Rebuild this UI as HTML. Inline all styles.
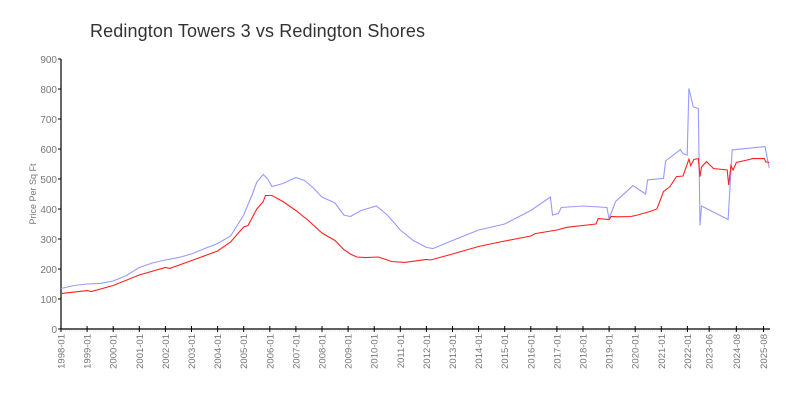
<!DOCTYPE html>
<html><head><meta charset="utf-8"><style>
body{margin:0;background:#fff;}
svg text{font-family:"Liberation Sans",sans-serif;}
</style></head><body>
<svg id="chart" width="800" height="400" xmlns="http://www.w3.org/2000/svg">
<rect width="800" height="400" fill="#fff"/>
<text x="90" y="37" font-size="18" fill="#333" textLength="335">Redington Towers 3 vs Redington Shores</text>
<text transform="translate(36,194) rotate(-90)" text-anchor="middle" font-size="9" fill="#777">Price Per Sq Ft</text>
<g id="axes"></g>
<g id="series"></g>
</svg>
<script>
const yTicks=[0,100,200,300,400,500,600,700,800,900];
const xTickLabels=["1998-01","1999-01","2000-01","2001-01","2002-01","2003-01","2004-01","2005-01","2006-01","2007-01","2008-01","2009-01","2010-01","2011-01","2012-01","2013-01","2014-01","2015-01","2016-01","2017-01","2018-01","2019-01","2020-01","2021-01","2022-01","2023-06","2024-08","2025-08"];
const xTickIdx=[0,12,24,36,48,60,72,84,96,108,120,132,144,156,168,180,192,204,216,228,240,252,264,276,288,298,310.5,323];
const towersIdx=[0,6,12,18,24,30,36,42,48,54,60,66,72,78,84,88,90,93,95,97,102,108,112,116,120,126,130,133,138,145,150,156,162,168,171,180,192,204,216,225,226,228.7,230,240,251,252,255,263,268.8,269.7,277,278,284.8,285.9,287.9,288.7,290.7,293,293.8,294.5,306.7,308.6,323.7,325.6];
const towersVal=[135,145,150,152,160,178,205,220,230,238,250,268,285,310,380,450,490,515,500,475,485,505,495,470,440,420,380,375,395,410,380,330,295,272,268,295,330,350,395,440,380,385,405,410,405,368,425,478,450,497,502,560,598,585,580,802,740,735,345,410,365,597,608,537];
const shoresIdx=[0,12,14,24,36,48,50,60,72,78,84,86,90,93,94,97,102,108,114,120,126,130,133,136,140,146,150,152,158,168,170,180,192,201.8,216,218,228,232.5,246,247,252,253,255.8,262,264,270,274,277,280,283,286,288.7,289.5,291,293,293.8,294.5,296.8,300,306.3,307,308,309,310.5,316.5,318,323.4,324,325.6];
const shoresVal=[118,128,125,145,180,205,202,228,260,290,340,345,400,425,445,445,425,395,360,320,295,265,250,240,238,240,230,225,222,232,230,250,275,290,310,318,330,339,350,368,365,375,374,375,378,390,400,458,475,508,510,566,545,565,568,508,540,558,535,530,480,545,530,555,565,568,568,557,555];
const X0=61,XS=2.175,Y0=329,YS=0.3;
const xs=i=>X0+i*XS, ys=v=>Y0-v*YS;
const NS="http://www.w3.org/2000/svg";
const axes=document.getElementById('axes');
function mk(t,a,p){const e=document.createElementNS(NS,t);for(const k in a)e.setAttribute(k,a[k]);p.appendChild(e);return e;}
for(let i=0;i<=326;i++){mk('line',{x1:xs(i),y1:Y0+1,x2:xs(i),y2:Y0+3,stroke:'#ddd','stroke-width':0.5},axes);}
const ya=mk('line',{x1:X0,y1:ys(900),x2:X0,y2:Y0,stroke:'#000','stroke-width':1.2},axes);


const xa=mk('line',{x1:X0,y1:Y0,x2:770,y2:Y0,stroke:'#000','stroke-width':1.2},axes);


yTicks.forEach(v=>{
 mk('line',{x1:X0-3,y1:ys(v),x2:X0,y2:ys(v),stroke:'#000'},axes);
 const t=mk('text',{x:X0-4,y:ys(v)+4,'text-anchor':'end','font-size':10,fill:'#777'},axes);
 t.textContent=v;
 
 
});
xTickLabels.forEach((l,k)=>{
 const x=xs(xTickIdx[k]);
 mk('line',{x1:x,y1:Y0-3,x2:x,y2:Y0+3,stroke:'#000'},axes);
 const t=mk('text',{transform:`translate(${x+3.5},${Y0+5}) rotate(-90)`,'text-anchor':'end','font-size':9.5,fill:'#777'},axes);
 t.textContent=l;
 
 
});
const g=document.getElementById('series');
function line(ix,vals,col,name){
 const d=ix.map((i,k)=>(k?'L':'M')+xs(i).toFixed(1)+','+ys(vals[k]).toFixed(1)).join('');
 const p=mk('path',{d:d,fill:'none',stroke:col,'stroke-width':1.1},g);
 
 
}
line(towersIdx,towersVal,'#9999ff','redington-towers-3-line');
line(shoresIdx,shoresVal,'#ff2020','redington-shores-line');
</script>
</body></html>
